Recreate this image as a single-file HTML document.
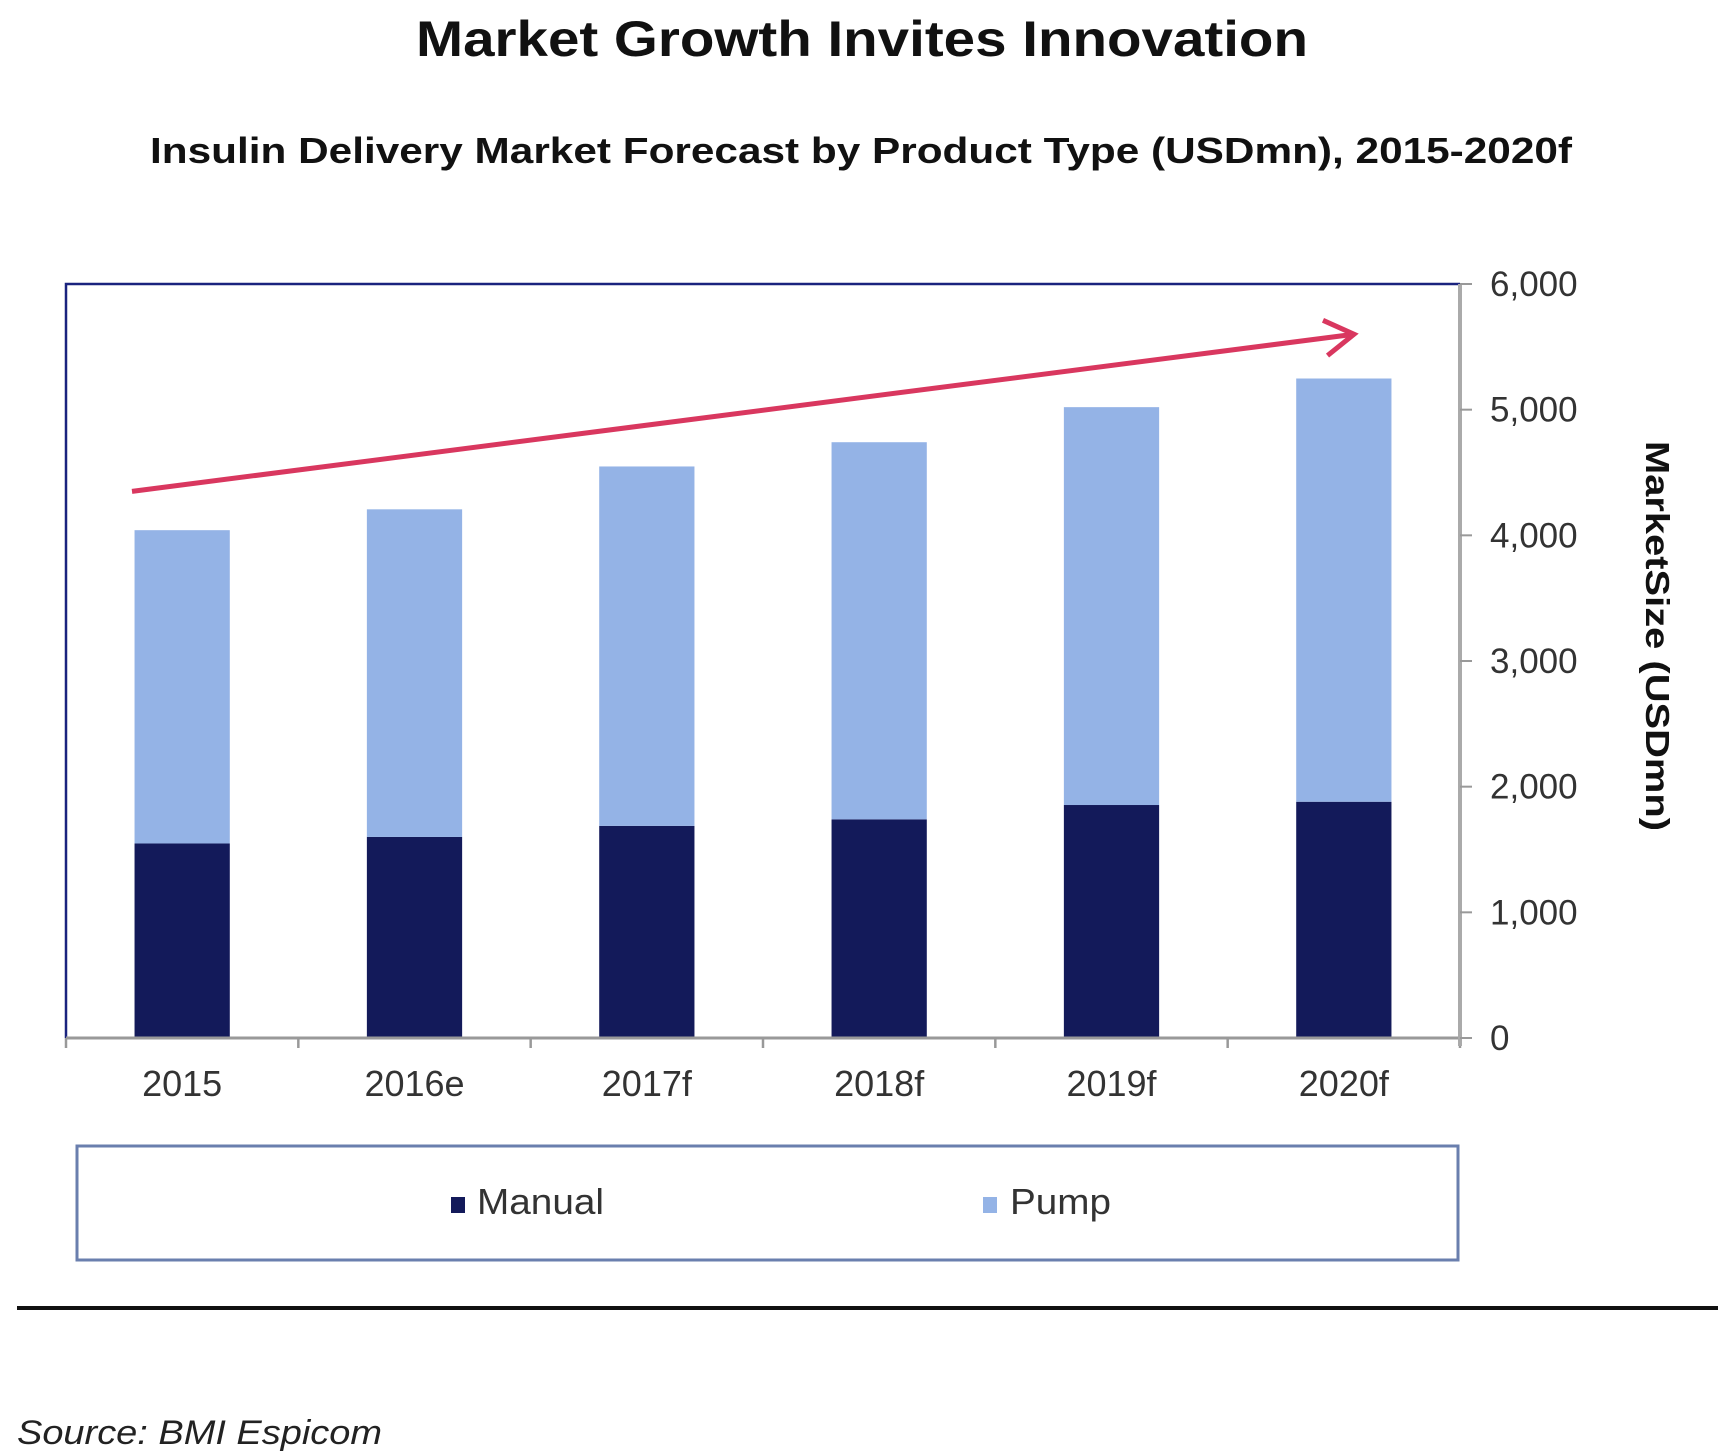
<!DOCTYPE html>
<html><head><meta charset="utf-8"><style>
html,body{margin:0;padding:0;background:#fff;}
svg{display:block;}
text{font-family:"Liberation Sans",Arial,sans-serif;}
</style></head><body>
<svg id="chart" width="1730" height="1456" viewBox="0 0 1730 1456" xmlns="http://www.w3.org/2000/svg">
<text x="862" y="56" text-anchor="middle" font-size="50" font-weight="bold" fill="#111" textLength="892" lengthAdjust="spacingAndGlyphs">Market Growth Invites Innovation</text>
<text x="861" y="163" text-anchor="middle" font-size="36" font-weight="bold" fill="#111" textLength="1422" lengthAdjust="spacingAndGlyphs">Insulin Delivery Market Forecast by Product Type (USDmn), 2015-2020f</text>
<g id="plot"></g>
<rect x="77" y="1146" width="1381" height="114" fill="#fff" stroke="#6a7fae" stroke-width="3"/>
<g>
<rect x="451" y="1197" width="14" height="16" fill="#131a5a"/>
<text x="477" y="1214" font-size="36" fill="#333" textLength="127" lengthAdjust="spacingAndGlyphs">Manual</text>
</g>
<g>
<rect x="983" y="1197" width="14" height="16" fill="#94b3e6"/>
<text x="1010" y="1214" font-size="36" fill="#333" textLength="101" lengthAdjust="spacingAndGlyphs">Pump</text>
</g>
<line x1="17" y1="1308" x2="1718" y2="1308" stroke="#111" stroke-width="4"/>
<text x="17" y="1444" font-size="34" font-style="italic" fill="#222" textLength="365" lengthAdjust="spacingAndGlyphs">Source: BMI Espicom</text>
<script>
const categories = ["2015","2016e","2017f","2018f","2019f","2020f"];
const manualValues = [1548,1600,1688,1740,1854,1880];
const totalValues = [4041,4207,4548,4741,5020,5248];
const pumpValues = totalValues.map((t,i)=>t-manualValues[i]);
const yTicks = [0,1000,2000,3000,4000,5000,6000];
const yTickLabels = ["0","1,000","2,000","3,000","4,000","5,000","6,000"];
const trendStart = 4350, trendEnd = 5600;

const NS="http://www.w3.org/2000/svg";
const g=document.getElementById('plot');
const L=66,R=1460,T=284,B=1038,yMax=6000;
const bw=(R-L)/categories.length;
const y=v=>B-(v/yMax)*(B-T);
const xc=i=>L+bw*(i+0.5);
function mk(tag,attrs){const e=document.createElementNS(NS,tag);for(const k in attrs)e.setAttribute(k,attrs[k]);g.appendChild(e);return e;}

categories.forEach((c,i)=>{
  const w=bw*0.41, x=xc(i)-w/2;
  const m=mk('rect',{x:x,y:y(manualValues[i]),width:w,height:B-y(manualValues[i]),fill:'#131a5a'});
  
  
  const top=manualValues[i]+pumpValues[i];
  const p=mk('rect',{x:x,y:y(top),width:w,height:y(manualValues[i])-y(top),fill:'#94b3e6'});
  
  
  const t=mk('text',{x:xc(i),y:B+58,'text-anchor':'middle','font-size':36,fill:'#333'});
  t.textContent=c;
  
  
});
// frame
const f1=mk('polyline',{points:`${L},${B} ${L},${T} ${R},${T}`,fill:'none',stroke:'#1a237e','stroke-width':2.5});


const xa=mk('line',{x1:L,y1:B,x2:R,y2:B,stroke:'#999','stroke-width':3});


for(let i=0;i<=categories.length;i++){
  const tk=mk('line',{x1:L+bw*i,y1:B,x2:L+bw*i,y2:B+10,stroke:'#999','stroke-width':2.5});
  
  
}
const ya=mk('line',{x1:R,y1:T,x2:R,y2:B+8,stroke:'#aaa','stroke-width':4});


yTicks.forEach((v,i)=>{
  const tk=mk('line',{x1:R,y1:y(v),x2:R+12,y2:y(v),stroke:'#999','stroke-width':2});
  
  
  const t=mk('text',{x:R+30,y:y(v)+12,'font-size':35,fill:'#333'});
  t.textContent=yTickLabels[i];
  
  
});
const yt=mk('text',{x:0,y:0,'font-size':33,'font-weight':'bold',fill:'#111','text-anchor':'middle',transform:'translate(1646,636) rotate(90)',textLength:390,lengthAdjust:'spacingAndGlyphs'});
yt.textContent='MarketSize (USDmn)';


// trend arrow
const ax1=132, ax2=1354, ay1=y(trendStart), ay2=y(trendEnd);
const ar=mk('line',{x1:ax1,y1:ay1,x2:ax2,y2:ay2,stroke:'#d9375f','stroke-width':5});


const ang=Math.atan2(ay2-ay1,ax2-ax1),hl=34,ha=0.55;
const ah=mk('polyline',{points:`${ax2-hl*Math.cos(ang-ha)},${ay2-hl*Math.sin(ang-ha)} ${ax2},${ay2} ${ax2-hl*Math.cos(ang+ha)},${ay2-hl*Math.sin(ang+ha)}`,fill:'none',stroke:'#d9375f','stroke-width':5,'stroke-linejoin':'miter'});


</script>
</svg>
</body></html>
